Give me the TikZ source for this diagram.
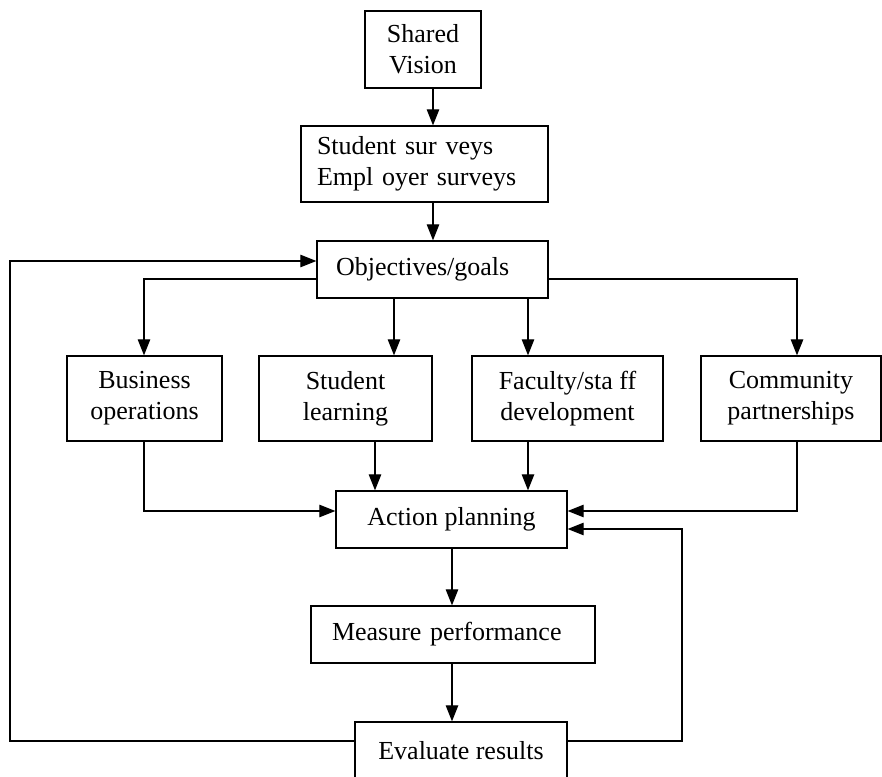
\documentclass[tikz,border=0pt]{standalone}
\usepackage{fontspec}
\setmainfont{Liberation Serif}
\usetikzlibrary{arrows.meta}
\begin{document}
\begin{tikzpicture}[x=1pt,y=-1pt,
  box/.style={draw,line width=1.3pt,inner sep=0pt,align=center,font=\fontsize{26}{31}\selectfont},
  lbox/.style={box,align=left},
  conn/.style={line width=1.1pt},
  arr/.style={conn,-{Triangle[length=16pt,width=12.5pt]}}]
\useasboundingbox (0,0) rectangle (882,776);
% boxes
\node[box,minimum width=116pt,minimum height=77pt] (sv) at (423,49.5) {Shared\\Vision};
\node[lbox,inner xsep=16pt,text width=215pt,minimum height=76pt] (sur) at (424.5,164) {Student sur veys\\Empl oyer surveys};
\node[lbox,inner xsep=19pt,text width=193pt,minimum height=57pt] (obj) at (432.5,269.5) {Objectives/goals};
\node[box,minimum width=155pt,minimum height=85pt] (bus) at (144.5,398.5) {Business\\operations};
\node[box,minimum width=173pt,minimum height=85pt] (stl) at (345.5,398.5) {Student\\learning};
\node[box,minimum width=191pt,minimum height=85pt] (fac) at (567.5,398.5) {Faculty/sta ff\\development};
\node[box,minimum width=180pt,minimum height=85pt] (com) at (791,398.5) {Community\\partnerships};
\node[box,minimum width=231pt,minimum height=57pt] (act) at (451.5,519.5) {Action planning};
\node[lbox,inner xsep=21pt,text width=242pt,minimum height=57pt] (mea) at (453,634.5) {Measure performance};
\node[box,minimum width=212pt,minimum height=57pt] (eva) at (461,750.5) {Evaluate results};
% guide coordinates
\coordinate (xtop) at (433,0);
\coordinate (xbus) at (144,0);
\coordinate (xstlin) at (394,0);
\coordinate (xstlout) at (375,0);
\coordinate (xfac) at (528,0);
\coordinate (xcom) at (797,0);
\coordinate (xmid) at (452,0);
\coordinate (xleft) at (10,0);
\coordinate (xright) at (682,0);
\coordinate (yobj) at (0,279);
\coordinate (yfb) at (0,261);
\coordinate (yact) at (0,511);
\coordinate (yact2) at (0,529);
\coordinate (yeva) at (0,741);
% connectors
\draw[arr] (sv.south -| xtop) -- (sur.north -| xtop);
\draw[arr] (sur.south -| xtop) -- (obj.north -| xtop);
\draw[arr] (obj.west |- yobj) -| (bus.north -| xbus);
\draw[arr] (obj.south -| xstlin) -- (stl.north -| xstlin);
\draw[arr] (obj.south -| xfac) -- (fac.north -| xfac);
\draw[arr] (obj.east |- yobj) -| (com.north -| xcom);
\draw[arr] (bus.south -| xbus) |- (act.west |- yact);
\draw[arr] (stl.south -| xstlout) -- (act.north -| xstlout);
\draw[arr] (fac.south -| xfac) -- (act.north -| xfac);
\draw[arr] (com.south -| xcom) |- (act.east |- yact);
\draw[arr] (act.south -| xmid) -- (mea.north -| xmid);
\draw[arr] (mea.south -| xmid) -- (eva.north -| xmid);
\draw[arr] (eva.west |- yeva) -| (xleft |- yfb) -- (obj.west |- yfb);
\draw[arr] (eva.east |- yeva) -| (xright |- yact2) -- (act.east |- yact2);
\end{tikzpicture}
\end{document}
